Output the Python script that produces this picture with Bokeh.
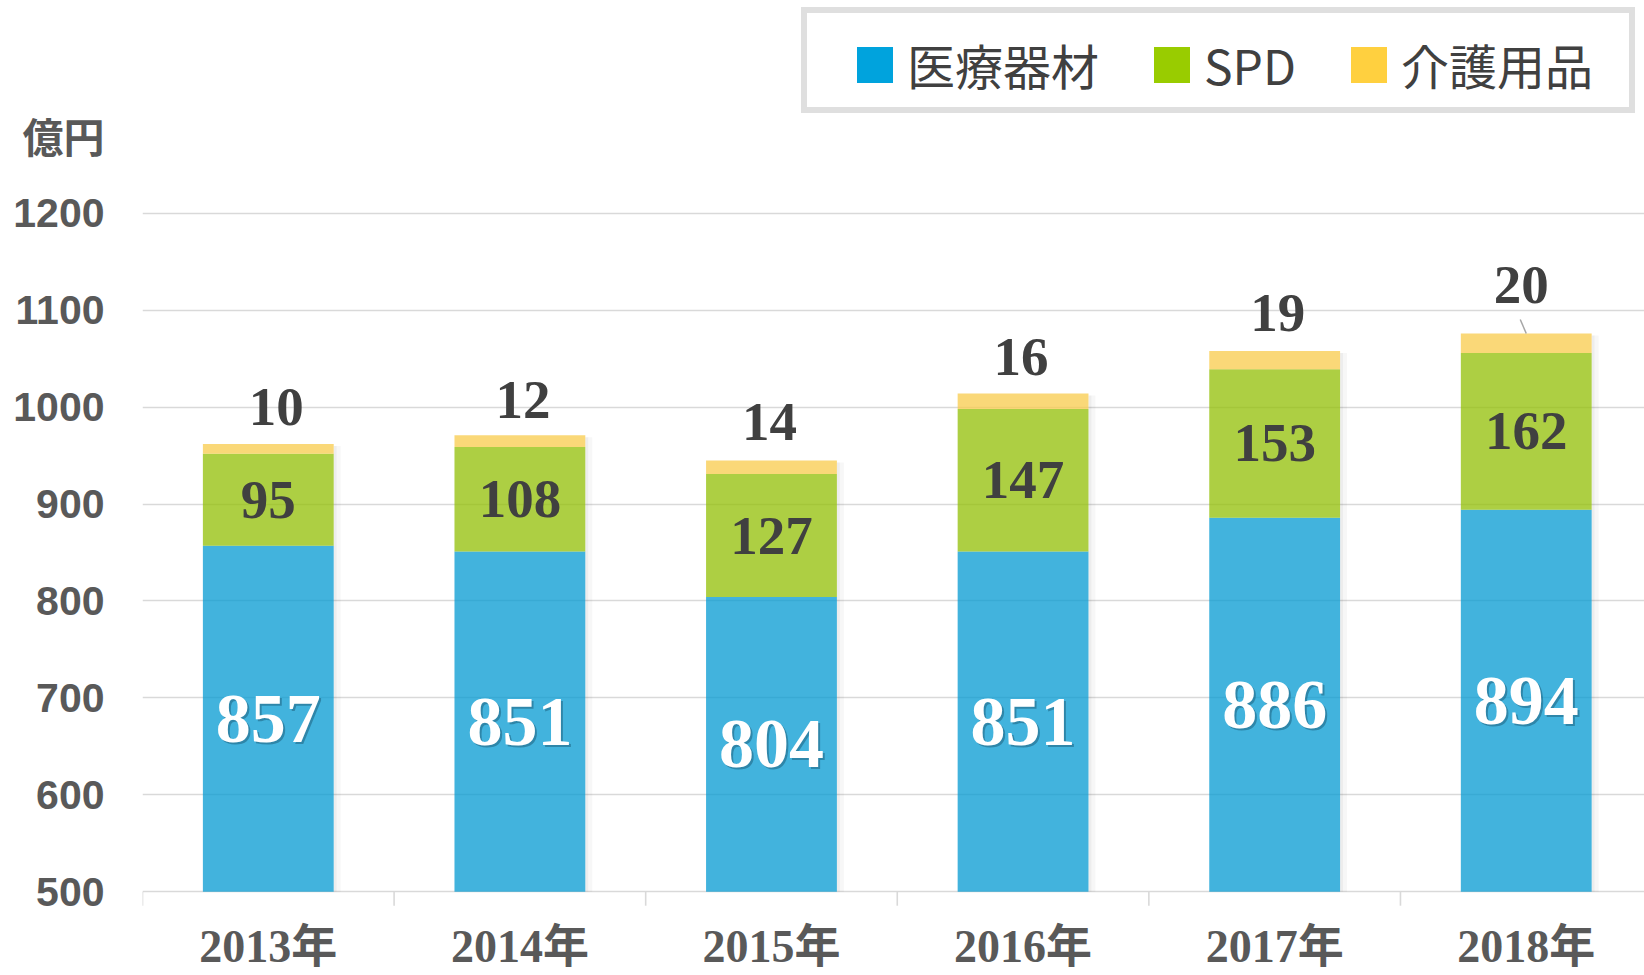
from bokeh.plotting import figure
from bokeh.models import Range1d, FixedTicker, ColumnDataSource, Legend, LegendItem
from bokeh.embed import file_html
from bokeh.resources import INLINE
from bokeh.core.properties import value

# ---------------- data ----------------
years = ["2013年", "2014年", "2015年", "2016年", "2017年", "2018年"]
medical = [857, 851, 804, 851, 886, 894]      # 医療器材
spd = [95, 108, 127, 147, 153, 162]           # SPD
care = [10, 12, 14, 16, 19, 20]               # 介護用品
series_names = ["医療器材", "SPD", "介護用品"]
y_ticks = [500, 600, 700, 800, 900, 1000, 1100, 1200]
y_unit = "億円"

# ---------------- styles ----------------
legend_colors = ["#00a3dd", "#99cc00", "#ffd03f"]
bar_colors = ["#039ad2", "#92bf04", "#f8cb4b"]
bar_alpha = 0.75
care_dx = [8, 3, -2, -2, 3, -5]     # label nudges (px)
care_dy = [-37, -35, -38, -37, -38, -48]

W, H = 1644, 975
LEFT = 142
K = 0.9691                 # px per unit on y
FRAME_BOTTOM_PX = 891.2    # pixel row of the axis baseline
XSPAN = 5.97
PXX = (W - LEFT) / XSPAN   # px per category

ymin = y_ticks[0] - (H - FRAME_BOTTOM_PX) / K
ymax = y_ticks[0] + FRAME_BOTTOM_PX / K

p = figure(width=W, height=H, output_backend="svg", toolbar_location=None,
           x_range=Range1d(0, XSPAN), y_range=Range1d(ymin, ymax),
           x_axis_location=None,
           min_border_left=LEFT, min_border_right=0, min_border_top=0, min_border_bottom=0)
p.outline_line_color = None
p.background_fill_color = "white"
p.border_fill_color = "white"
p.xgrid.visible = False
p.ygrid.ticker = FixedTicker(ticks=y_ticks)
p.ygrid.grid_line_color = "#d9d9d9"
p.ygrid.grid_line_width = 1.6

# unit text placed as an extra tick label above the top tick
unit_tick = int(round(y_ticks[0] + (FRAME_BOTTOM_PX - 138) / K))
yax = p.yaxis[0]
yax.ticker = FixedTicker(ticks=y_ticks + [unit_tick])
yax.major_label_overrides = {unit_tick: y_unit}
yax.axis_line_color = None
yax.major_tick_line_color = None
yax.minor_tick_line_color = None
yax.major_tick_out = 0
yax.major_tick_in = 0
yax.major_label_standoff = 38
yax.major_label_text_font = "Liberation Sans, Noto Sans CJK JP"
yax.major_label_text_font_style = "bold"
yax.major_label_text_font_size = "41px"
yax.major_label_text_color = "#595959"

n = len(years)
xs = [i + 0.5 for i in range(n)]
base = y_ticks[0]
spd_top = [m + s for m, s in zip(medical, spd)]
total = [t + c for t, c in zip(spd_top, care)]
bw = 0.52

src = ColumnDataSource(dict(
    x=xs, base=[base] * n, medical=medical, spd_top=spd_top, total=total,
    med_lbl=[str(v) for v in medical], spd_lbl=[str(v) for v in spd], care_lbl=[str(v) for v in care],
    med_y=[(base + m) / 2 for m in medical],
    spd_y=[m + s / 2 for m, s in zip(medical, spd)],
    shadow_l=[x + bw / 2 for x in xs],
    shadow_m=[x + bw / 2 + 3 / PXX for x in xs],
    shadow_r=[x + bw / 2 + 7 / PXX for x in xs],
    shadow_top=[t - 2 / K for t in total],
    care_dx=care_dx, care_dy=care_dy,
    years=years,
))

# bottom axis tick marks at category boundaries
p.segment(x0=list(range(n)), y0=[base] * n, x1=list(range(n)), y1=[base - 14 / K] * n,
          line_color="#d9d9d9", line_width=1.6)

# soft shadows on the right of bars
p.quad(left="shadow_l", right="shadow_m", bottom="base", top="shadow_top", source=src,
       fill_color="black", fill_alpha=0.07, line_color=None)
p.quad(left="shadow_m", right="shadow_r", bottom="base", top="shadow_top", source=src,
       fill_color="black", fill_alpha=0.03, line_color=None)

p.vbar(x="x", width=bw, bottom="base", top="medical", source=src,
       fill_color=bar_colors[0], fill_alpha=bar_alpha, line_color=None)
p.vbar(x="x", width=bw, bottom="medical", top="spd_top", source=src,
       fill_color=bar_colors[1], fill_alpha=bar_alpha, line_color=None)
p.vbar(x="x", width=bw, bottom="spd_top", top="total", source=src,
       fill_color=bar_colors[2], fill_alpha=bar_alpha, line_color=None)

serif = value("Liberation Serif")
p.text(x="x", y="med_y", text="med_lbl", source=src, x_offset=2, y_offset=2,
       text_font=serif, text_font_style="bold", text_font_size="70px",
       text_color="#16506a", text_alpha=0.45, text_align="center", text_baseline="middle")
p.text(x="x", y="med_y", text="med_lbl", source=src,
       text_font=serif, text_font_style="bold", text_font_size="70px",
       text_color="white", text_align="center", text_baseline="middle")
p.text(x="x", y="spd_y", text="spd_lbl", source=src,
       text_font=serif, text_font_style="bold", text_font_size="55px",
       text_color="#404040", text_align="center", text_baseline="middle")
p.text(x="x", y="total", text="care_lbl", source=src, x_offset="care_dx", y_offset="care_dy",
       text_font=serif, text_font_style="bold", text_font_size="55px",
       text_color="#404040", text_align="center", text_baseline="middle")

# leader line for the last small label
p.segment(x0=[xs[-1] - 6 / PXX], y0=[total[-1] + 14 / K], x1=[xs[-1]], y1=[total[-1]],
          line_color="#a6a6a6", line_width=1.5)

# category labels
p.text(x="x", y="base", text="years", source=src, y_offset=55,
       text_font=value("Liberation Serif, Noto Sans CJK JP"), text_font_style="bold",
       text_font_size="46px", text_color="#595959", text_align="center", text_baseline="middle")

# legend frame (one blank item sized to the box)
blank = p.vbar(x=[-5], bottom=[base], top=[base], width=0.1, fill_alpha=0, line_alpha=0)
frame_leg = Legend(items=[LegendItem(label=" ", renderers=[blank])],
                   location=(659, 862), orientation="horizontal",
                   glyph_width=822, glyph_height=94, padding=0, margin=0,
                   label_standoff=0, label_width=0, label_height=0, label_text_font_size="1px",
                   border_line_color="#bfbfbf", border_line_width=6,
                   background_fill_color="white", background_fill_alpha=1)
p.add_layout(frame_leg)

dummies = [p.vbar(x=[-5], bottom=[base], top=[base], width=0.1, fill_color=c, line_color=None)
           for c in legend_colors]
leg = Legend(items=[LegendItem(label=nm, renderers=[r]) for nm, r in zip(series_names, dummies)],
             location=(710, 876), orientation="horizontal",
             glyph_width=45, glyph_height=45, label_standoff=10, spacing=50, padding=0, margin=0,
             label_text_font="Noto Sans CJK JP", label_text_font_size="48px",
             label_text_color="#404040",
             border_line_color=None, background_fill_alpha=0)
p.add_layout(leg)

open("out.html", "w").write(file_html(p, INLINE))
